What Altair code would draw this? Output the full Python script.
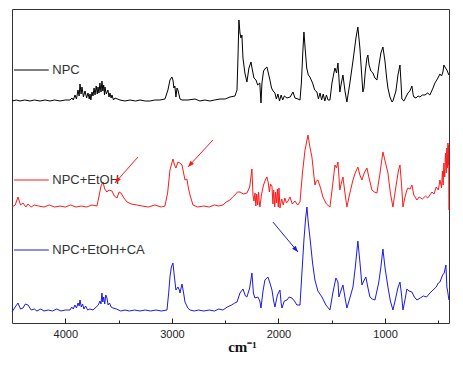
import altair as alt
import pandas as pd

# ---- data (wavenumber cm-1, intensity a.u.) ----
npc = [(4500,222),(4460,223),(4425,222),(4380,223),(4331,222),(4290,223),(4237,222),(4190,223),(4144,222),(4100,223),(4050,222),(4000,223),(3956,223),(3937,225),(3925,223),(3909,228),(3895,224),(3881,233),(3870,227),(3862,239),(3852,229),(3843,236),(3830,226),(3815,232),(3800,225),(3787,230),(3775,224),(3768,229),(3760,223),(3750,231),(3740,227),(3730,235),(3721,228),(3710,237),(3700,229),(3693,236),(3684,230),(3675,240),(3665,231),(3656,242),(3648,232),(3640,238),(3632,228),(3628,236),(3615,229),(3600,233),(3590,226),(3581,230),(3570,225),(3562,228),(3548,223),(3534,225),(3487,223),(3440,222),(3393,223),(3340,222),(3299,223),(3250,222),(3206,222),(3160,223),(3112,223),(3065,224),(3037,233),(3018,243),(3000,246),(2990,243),(2981,235),(2972,237),(2962,226),(2952,235),(2943,233),(2924,224),(2905,223),(2849,223),(2783,224),(2737,222),(2690,223),(2643,222),(2600,223),(2549,224),(2500,224),(2455,226),(2408,227),(2389,233),(2380,265),(2371,303),(2361,290),(2352,285),(2343,288),(2333,265),(2315,250),(2296,241),(2277,255),(2258,261),(2248,255),(2230,245),(2211,243),(2195,238),(2175,240),(2164,220),(2155,240),(2140,252),(2120,255),(2108,256),(2095,250),(2080,243),(2065,235),(2050,232),(2033,230),(2020,224),(2005,229),(1990,222),(1975,228),(1960,223),(1945,227),(1920,225),(1890,226),(1864,231),(1845,225),(1817,224),(1798,223),(1785,240),(1772,270),(1761,291),(1750,275),(1735,255),(1720,248),(1705,246),(1680,240),(1660,233),(1639,231),(1625,224),(1610,230),(1595,223),(1580,229),(1565,222),(1550,228),(1535,223),(1517,223),(1498,240),(1480,250),(1470,255),(1455,250),(1442,260),(1424,231),(1410,240),(1395,248),(1376,232),(1358,221),(1330,240),(1301,262),(1273,285),(1255,296),(1236,275),(1217,245),(1208,231),(1198,235),(1185,252),(1170,265),(1161,268),(1150,258),(1133,252),(1114,250),(1095,245),(1076,243),(1057,258),(1039,270),(1020,276),(1001,262),(985,245),(973,235),(954,226),(935,221),(926,222),(898,232),(879,248),(860,258),(850,240),(842,224),(823,222),(804,226),(785,230),(767,232),(748,237),(736,228),(729,226),(710,225),(690,227),(673,226),(650,228),(626,228),(600,230),(579,228),(550,235),(532,240),(504,245),(485,249),(470,247),(457,251),(448,258),(438,256),(420,253),(401,248)]

npc_etoh = [(4500,116),(4470,118),(4444,126),(4420,118),(4397,120),(4370,116),(4350,119),(4320,116),(4290,118),(4250,117),(4200,116),(4150,118),(4100,116),(4050,117),(4000,116),(3950,118),(3900,116),(3850,117),(3800,116),(3750,118),(3703,117),(3685,126),(3665,137),(3646,141),(3630,134),(3610,131),(3590,133),(3562,132),(3540,127),(3515,125),(3495,131),(3478,130),(3450,125),(3421,121),(3380,119),(3328,118),(3280,117),(3220,116),(3160,118),(3100,116),(3065,117),(3040,130),(3018,153),(2990,164),(2975,158),(2962,155),(2943,161),(2925,160),(2905,158),(2890,150),(2877,143),(2859,144),(2845,135),(2830,128),(2802,118),(2760,116),(2700,117),(2650,116),(2600,118),(2560,117),(2521,118),(2490,121),(2455,123),(2430,126),(2408,128),(2385,131),(2361,131),(2330,129),(2296,130),(2270,136),(2249,154),(2239,128),(2230,122),(2220,130),(2212,117),(2204,129),(2195,118),(2187,131),(2180,121),(2174,116),(2160,128),(2140,138),(2120,144),(2108,146),(2095,140),(2085,131),(2075,139),(2061,137),(2052,119),(2045,133),(2035,116),(2028,131),(2020,120),(2010,134),(2002,116),(1995,135),(1986,115),(1970,124),(1955,118),(1940,125),(1925,120),(1910,122),(1892,126),(1870,119),(1845,122),(1820,118),(1798,121),(1775,150),(1751,173),(1723,188),(1705,176),(1686,166),(1670,150),(1658,138),(1645,142),(1630,143),(1605,135),(1583,126),(1550,119),(1517,116),(1495,135),(1470,158),(1455,155),(1442,161),(1424,133),(1410,140),(1395,146),(1376,130),(1358,116),(1330,130),(1301,143),(1280,150),(1255,156),(1236,148),(1217,143),(1195,150),(1170,155),(1150,145),(1123,133),(1100,131),(1076,130),(1050,148),(1020,171),(995,160),(973,150),(950,130),(926,116),(900,135),(875,152),(860,158),(845,138),(832,116),(815,125),(795,133),(785,135),(765,134),(748,138),(730,128),(701,123),(680,126),(650,124),(620,127),(600,125),(579,128),(560,131),(540,129),(520,136),(500,133),(485,143),(470,135),(462,152),(455,138),(448,160),(440,146),(433,170),(426,150),(420,175),(414,155),(410,180),(406,158),(403,178),(401,113)]

npc_etoh_ca = [(4500,11),(4470,16),(4444,20),(4420,14),(4397,15),(4375,19),(4350,18),(4320,13),(4290,14),(4266,12),(4230,14),(4200,12),(4160,13),(4120,12),(4080,14),(4040,12),(4000,13),(3956,13),(3940,16),(3925,14),(3910,18),(3895,15),(3880,20),(3870,17),(3862,23),(3850,16),(3838,19),(3825,14),(3810,17),(3790,13),(3770,14),(3740,13),(3710,16),(3690,18),(3675,22),(3665,19),(3656,30),(3648,21),(3640,26),(3630,19),(3620,28),(3609,25),(3598,18),(3585,20),(3570,16),(3553,15),(3520,14),(3480,12),(3440,13),(3400,12),(3350,13),(3300,12),(3250,13),(3200,12),(3150,13),(3100,12),(3046,13),(3030,30),(3018,46),(3005,56),(2990,60),(2975,45),(2962,33),(2943,36),(2930,33),(2924,30),(2905,39),(2890,30),(2877,21),(2850,15),(2830,13),(2790,12),(2750,13),(2700,12),(2650,13),(2600,12),(2560,14),(2521,13),(2480,16),(2440,18),(2410,20),(2389,21),(2361,30),(2333,34),(2310,27),(2296,26),(2270,35),(2249,50),(2235,30),(2221,25),(2193,26),(2175,22),(2164,15),(2145,32),(2127,43),(2099,46),(2080,40),(2061,33),(2045,22),(2033,16),(2010,28),(1986,33),(1975,20),(1967,15),(1945,22),(1920,23),(1900,26),(1874,25),(1850,22),(1827,18),(1798,18),(1780,50),(1761,83),(1745,105),(1733,116),(1720,100),(1705,86),(1680,60),(1658,43),(1630,32),(1592,26),(1555,18),(1517,13),(1490,30),(1461,45),(1442,41),(1433,26),(1415,32),(1395,38),(1375,25),(1358,15),(1330,25),(1301,36),(1280,55),(1255,82),(1235,60),(1217,38),(1200,42),(1180,46),(1160,35),(1142,26),(1120,24),(1095,23),(1060,40),(1040,55),(1020,74),(1000,55),(973,36),(950,22),(926,13),(900,25),(880,35),(860,41),(845,28),(832,13),(815,22),(795,34),(775,32),(748,31),(725,26),(701,23),(670,25),(640,27),(610,26),(579,30),(550,33),(520,36),(500,40),(485,41),(460,48),(445,50),(429,58),(420,36),(410,30),(401,23)]

series_names = ["NPC", "NPC+EtOH", "NPC+EtOH+CA"]
series_colors = ["#000000", "#ff1a1a", "#1a1ae6"]
label_levels = [253, 143, 73]

major_ticks = [4000, 3000, 2000, 1000]
minor_ticks = [3500, 2500, 1500, 500]

# arrows: tail (wn, val) -> head (wn, val)
arrow_tail_wn = [3318, 2615, 2052]
arrow_tail_val = [166, 183, 101]
arrow_head_wn = [3534, 2849, 1817]
arrow_head_val = [140, 156, 71]
arrow_angle = [221, 223, 140]
arrow_color = ["#ff1a1a", "#ff1a1a", "#1a1ae6"]

# ---- tables ----
rows = []
for name, pts in zip(series_names, [npc, npc_etoh, npc_etoh_ca]):
    for i, (wn, v) in enumerate(pts):
        rows.append({"series": name, "wn": wn, "val": v, "i": i})
df = pd.DataFrame(rows)

lab = pd.DataFrame({"series": series_names, "y": label_levels,
                    "x1": [4481] * 3, "x2": [4155] * 3, "xt": [4122] * 3})
arr = pd.DataFrame({"x": arrow_tail_wn, "y": arrow_tail_val, "x2": arrow_head_wn,
                    "y2": arrow_head_val, "angle": arrow_angle, "c": arrow_color})

xscale = alt.Scale(domain=[400, 4500], reverse=True, nice=False, zero=False)
yscale = alt.Scale(domain=[0, 314], nice=False, zero=False)
color = alt.Color("series:N", scale=alt.Scale(domain=series_names, range=series_colors), legend=None)

major_axis = alt.Axis(values=major_ticks, format="d", orient="bottom", offset=-5, tickSize=5,
                      domain=False, grid=False, labelPadding=5, labelFontSize=11,
                      labelFont="Liberation Sans", labelColor="#222", tickColor="#222",
                      title="cm⁻¹", titleFont="Liberation Serif", titleFontSize=15,
                      titleFontWeight="bold", titleColor="#111", titlePadding=0, titleX=230)
minor_axis = alt.Axis(values=minor_ticks, orient="bottom", offset=-3, tickSize=3, domain=False,
                      grid=False, labels=False, title=None, tickColor="#222")

lines = alt.Chart(df).mark_line(strokeWidth=1).encode(
    x=alt.X("wn:Q", scale=xscale, axis=major_axis),
    y=alt.Y("val:Q", scale=yscale, axis=None),
    color=color,
    order="i:Q",
)

minor = alt.Chart(df).mark_point(opacity=0, size=1).encode(
    x=alt.X("wn:Q", scale=xscale, axis=minor_axis),
    y=alt.Y("val:Q", scale=yscale, axis=None),
)

leg_lines = alt.Chart(lab).mark_rule(strokeWidth=1).encode(
    x=alt.X("x1:Q", scale=xscale, axis=None), x2="x2:Q",
    y=alt.Y("y:Q", scale=yscale, axis=None),
    color=color,
)
leg_text = alt.Chart(lab).mark_text(align="left", baseline="middle", fontSize=13,
                                    font="Liberation Sans", color="#333").encode(
    x=alt.X("xt:Q", scale=xscale, axis=None),
    y=alt.Y("y:Q", scale=yscale, axis=None),
    text="series:N",
)

arrow_lines = alt.Chart(arr).mark_rule(strokeWidth=1).encode(
    x=alt.X("x:Q", scale=xscale, axis=None), x2="x2:Q",
    y=alt.Y("y:Q", scale=yscale, axis=None), y2="y2:Q",
    color=alt.Color("c:N", scale=None),
)
arrow_heads = alt.Chart(arr).mark_point(shape="M0,0L-0.45,1.2L0.45,1.2Z", filled=True, size=110,
                                        opacity=1).encode(
    x=alt.X("x2:Q", scale=xscale, axis=None),
    y=alt.Y("y2:Q", scale=yscale, axis=None),
    angle=alt.Angle("angle:Q", scale=None),
    color=alt.Color("c:N", scale=None),
)

chart = alt.layer(lines, minor, leg_lines, leg_text, arrow_lines, arrow_heads).resolve_axis(
    x="independent"
).properties(
    width=437, height=314,
    autosize=alt.AutoSizeParams(type="none"),
    padding={"left": 4, "top": 1, "right": 4, "bottom": 33},
    background="white",
).configure_view(stroke="#333", strokeWidth=1)

chart.save("out.html", embed_options={"renderer": "svg", "actions": False})
